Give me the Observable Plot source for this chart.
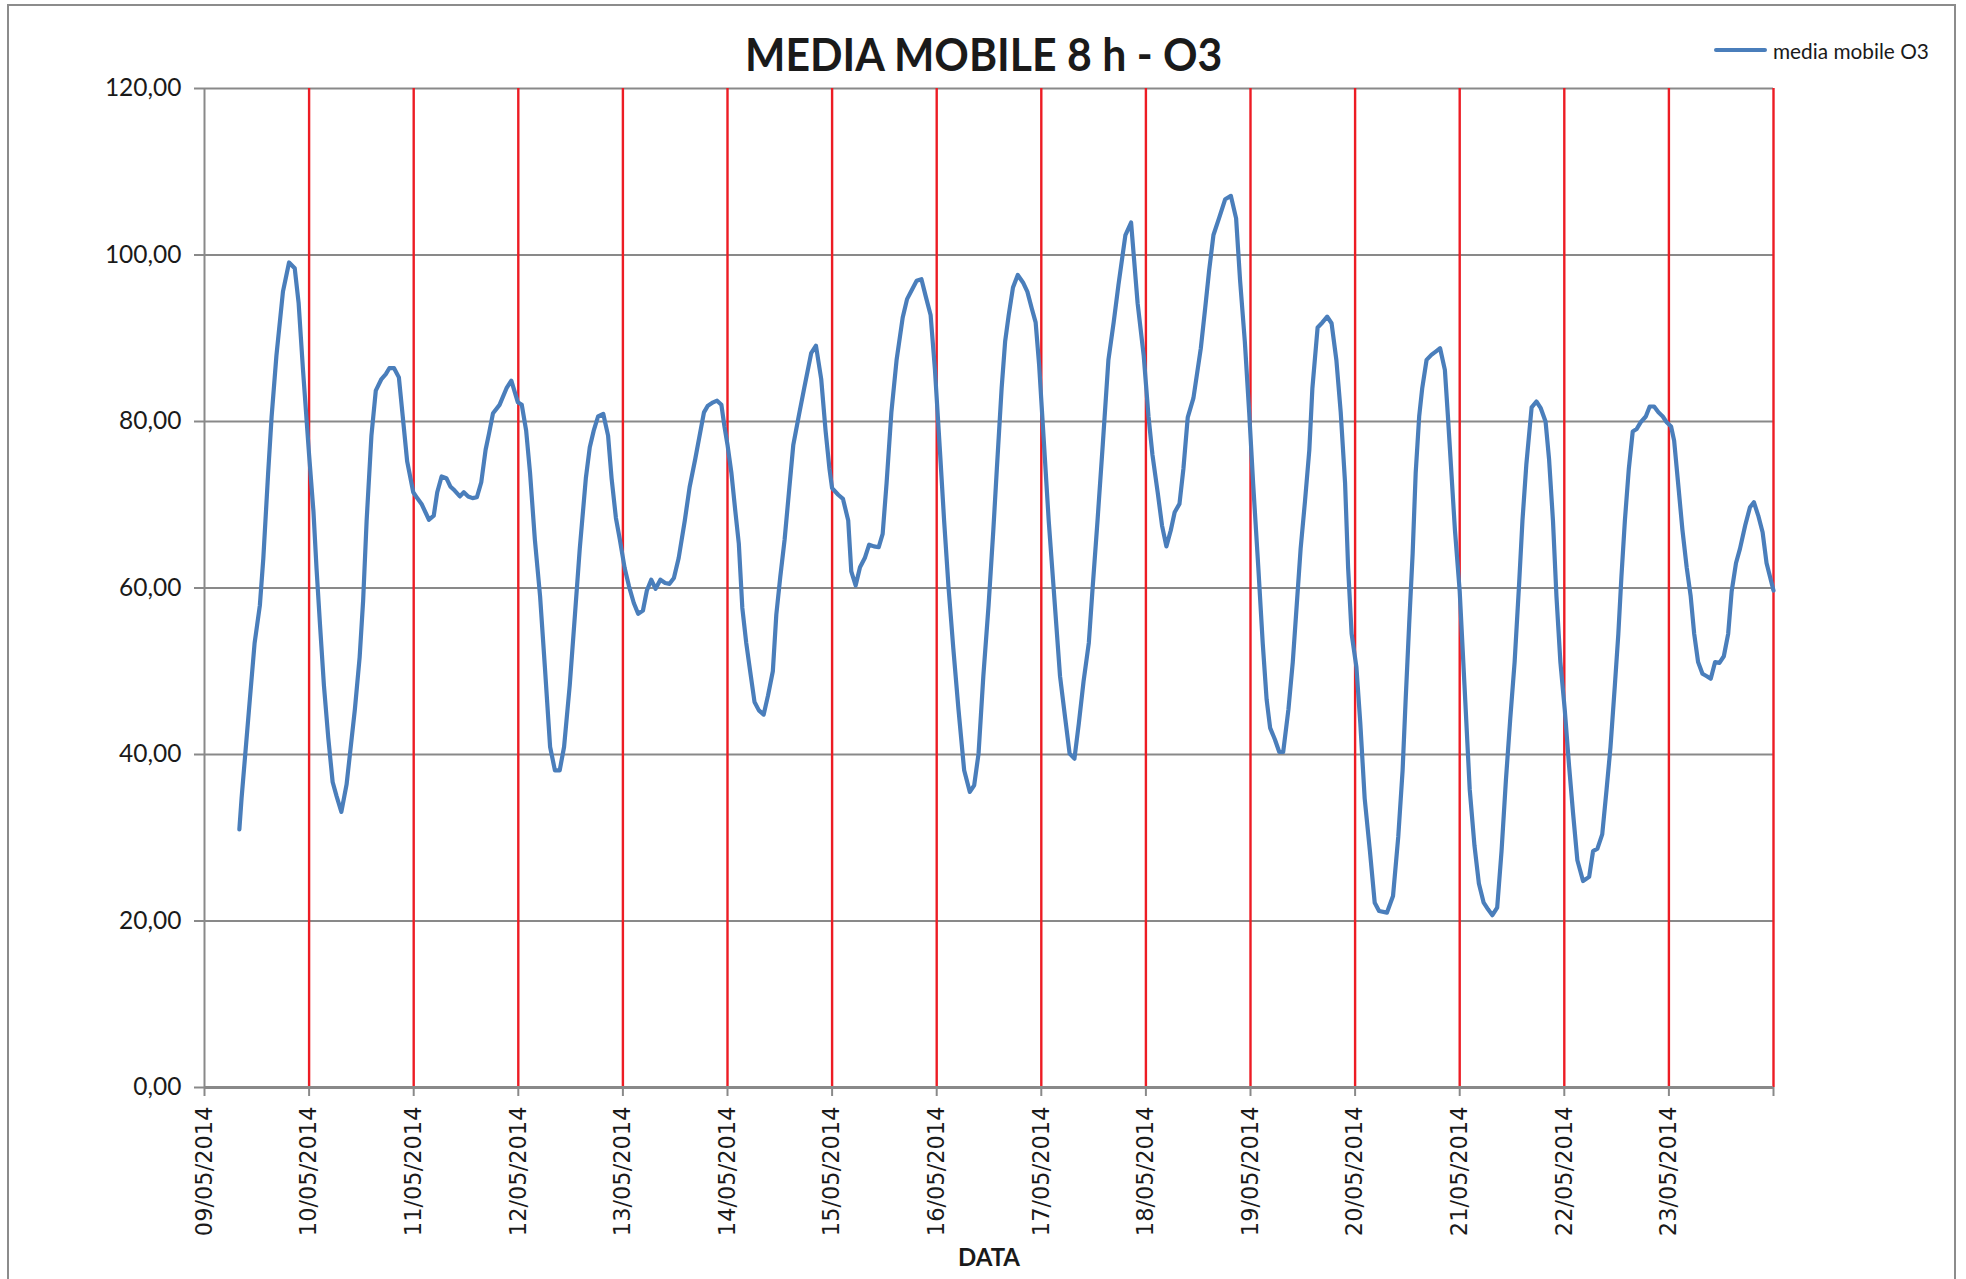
<!DOCTYPE html>
<html>
<head>
<meta charset="utf-8">
<script src="https://cdn.jsdelivr.net/npm/d3@7"></script>
<script src="https://cdn.jsdelivr.net/npm/@observablehq/plot@0.6"></script>
<style>
  html, body { margin: 0; padding: 0; background: #fff; overflow: hidden; }
  #page { position: relative; width: 1966px; height: 1279px; }
  #border { position: absolute; left: 7px; top: 4px; width: 1949px; height: 1400px; border: 2px solid #8c8c8c; box-sizing: border-box; }
  #header { position: relative; width: 1966px; height: 80px; }
  #titleWrap { position: absolute; left: 0; width: 1968px; top: 31px; text-align: center; }
  #title { display: inline-block; transform: scaleX(0.93); font-family: Lato, "Open Sans", sans-serif; font-weight: bold; font-size: 46px; line-height: 46px; color: #1a1a1a; white-space: nowrap; }
  #legend { position: absolute; left: 1714px; top: 38px; height: 24px; display: flex; align-items: center; font-family: Lato, "Open Sans", sans-serif; font-size: 20.8px; color: #1a1a1a; white-space: nowrap; }
  #legend .swatch { width: 53px; height: 4px; border-radius: 2px; background: #4a7ebb; margin-right: 6px; }
  #chart { position: relative; }
</style>
</head>
<body>
<div id="page">
  <div id="border"></div>
  <div id="header">
    <div id="titleWrap"><div id="title">MEDIA MOBILE 8 h - O3</div></div>
    <div id="legend"><span class="swatch"></span><span id="legendText">media mobile O3</span></div>
  </div>
  <div id="chart"></div>
</div>
<script>
// ---- Data (hours since 09/05/2014 00:00, moving-average O3) ----
const seriesName = "media mobile O3";
const seriesHours = [
  8, 8.5, 10.4, 11.5, 12.7, 13.5, 14.6, 15.4, 16.5, 18, 19.4, 20.7, 21.6, 22.6, 24, 25, 25.7, 26.5, 27.4, 28.4,
  29.4, 30.3, 31.4, 32.6, 34.5, 35.6, 36.4, 37.2, 38.3, 39.3, 40.6, 41.6, 42.4, 43.5, 44.6, 45.6, 46.5, 47.9, 48.8, 49.8,
  51.5, 52.6, 53.4, 54.4, 55.5, 56.4, 57.4, 58.6, 59.5, 60.5, 61.5, 62.5, 63.5, 64.5, 65.3, 66.2, 67.7, 69.3, 70.4, 71.9,
  72.8, 73.8, 74.7, 75.8, 77.0, 78.1, 79.3, 80.4, 81.5, 82.5, 83.8, 85.0, 86.1, 87.5, 88.4, 89.3, 90.3, 91.5, 92.6, 93.4,
  94.4, 95.3, 96.4, 97.4, 98.5, 99.5, 100.6, 101.5, 102.5, 103.5, 104.6, 105.7, 106.7, 107.7, 108.8, 110.2, 111.3, 112.6, 113.6, 114.6,
  115.5, 116.7, 117.6, 118.6, 119.3, 120, 120.9, 121.8, 122.6, 123.4, 124.3, 125.2, 126.2, 127.2, 128.3, 129.3, 130.4, 131.2, 132.1, 133.1,
  134.2, 135.1, 136.4, 137.6, 139.2, 140.3, 141.5, 142.5, 143.4,
  144, 145.4, 146.5, 147.7, 148.4, 149.4, 150.4, 151.5, 152.5, 153.6, 154.7, 155.6, 156.5, 157.6, 158.8, 160.2, 161.2, 162.5, 163.4, 164.5,
  165.5, 166.6, 167.6, 168.8, 169.7, 170.7, 171.8, 173.0, 174.3, 175.6, 176.6, 177.6, 178.7, 179.9, 181.0, 181.8, 182.9, 183.7, 184.5, 185.5,
  186.6, 187.8, 188.8, 189.8, 190.7, 191.5, 192.5, 193.7, 194.8, 196.3, 197.5, 198.5, 199.6, 200.6, 201.7, 202.9, 203.8, 204.9, 206.1, 207.4,
  208.6, 209.7, 211.3, 212.6,
  214.1, 215.5, 216.6, 217.5, 218.7, 219.7, 220.7, 221.7, 222.6, 223.7, 224.6, 225.6, 226.9, 228.6, 229.6, 230.5, 231.5, 232.9, 234.2, 235.5,
  236.7, 237.6, 238.7, 239.7, 240.6, 241.8, 242.8, 243.7, 244.5, 245.6, 246.6, 247.5, 248.7, 249.7, 250.6, 251.5, 252.5, 253.5, 254.2, 255.4,
  256.5, 257.6, 258.6, 259.7, 260.7, 261.7, 262.4, 263.2, 264.3, 265.2, 266.2, 267.4, 268.5, 269.5, 271.3, 272.7, 273.9, 274.9, 275.6, 276.4,
  277.2, 277.9, 278.7, 279.4, 280.4, 281.5, 282.5, 283.5,
  284.6, 285.3, 286.1, 286.9, 288, 289.1, 290.3, 291.4, 292.4, 293.5, 294.5, 295.5, 296.6, 297.6, 298.6, 299.6, 300.6, 301.6, 302.4, 303.3,
  304.5, 305.6, 306.6, 307.7, 308.5, 309.4, 310.2, 311.1, 312.1, 313.1, 314.0, 315.0, 316.3, 317.7, 318.6, 319.6, 320.7, 321.7, 322.6, 323.6,
  324.4, 325.1, 325.9, 326.8, 327.7, 328.6, 329.5, 330.7, 331.6, 332.6, 333.6, 334.6, 335.5, 336.5, 337.2, 338.2, 339.1, 340.1, 341.0, 341.8,
  342.7, 343.7, 344.7, 345.6, 346.6, 347.6, 348.6, 349.6, 350.4, 351.4, 352.3, 353.5, 354.6, 355.5, 356.5, 357.5, 358.4, 360
];
const seriesValues = [
  31.0, 34.7, 46.6, 53.4, 57.9, 63.6, 73.8, 80.6, 87.9, 95.6, 99.1, 98.4, 94.2, 86.2, 76.0, 69.2, 62.4, 55.6, 48.3, 42.0,
  36.7, 35.0, 33.1, 36.4, 45.4, 51.7, 58.5, 68.1, 78.3, 83.7, 85.1, 85.7, 86.4, 86.4, 85.3, 80.0, 75.2, 71.5, 70.8, 70.1,
  68.2, 68.7, 71.5, 73.4, 73.2, 72.2, 71.7, 71.0, 71.5, 71.0, 70.8, 70.9, 72.7, 76.6, 78.6, 81.0, 82.0, 84.0, 84.9, 82.3,
  82.0, 78.9, 73.8, 65.8, 59.0, 50.5, 40.9, 38.1, 38.1, 40.9, 48.3, 56.8, 64.7, 73.2, 76.9, 78.9, 80.6, 80.9, 78.3, 73.2,
  68.4, 65.8, 62.4, 60.2, 58.2, 56.9, 57.3, 59.7, 61.0, 59.9, 61.0, 60.6, 60.5, 61.2, 63.6, 68.1, 72.1, 75.5, 78.3, 81.1,
  81.9, 82.3, 82.5, 82.0, 79.4, 77.2, 73.8, 69.2, 65.3, 57.6, 53.4, 50.0, 46.3, 45.3, 44.8, 47.1, 50.0, 56.8, 61.3, 65.8,
  72.1, 77.2, 80.8, 84.0, 88.2, 89.1, 85.1, 78.9, 74.3,
  72.0, 71.2, 70.7, 68.1, 62.0, 60.3, 62.5, 63.6, 65.2, 65.0, 64.9, 66.5, 72.6, 81.1, 87.4, 92.5, 94.7, 96.0, 96.9, 97.1,
  95.0, 92.8, 86.2, 76.0, 68.1, 60.2, 52.8, 45.4, 38.1, 35.5, 36.3, 40.1, 49.4, 57.9, 67.0, 74.3, 84.0, 89.6, 92.7, 96.1,
  97.6, 96.7, 95.6, 93.6, 91.9, 86.8, 78.3, 68.1, 60.2, 49.4, 44.3, 40.1, 39.5, 43.7, 48.8, 53.4, 60.2, 68.1, 77.2, 87.4,
  91.9, 96.4, 102.4, 103.9,
  94.2, 87.9, 80.6, 76.0, 71.5, 67.5, 65.0, 66.9, 69.1, 70.1, 74.3, 80.5, 82.8, 88.8, 93.6, 98.1, 102.4, 104.6, 106.7, 107.1,
  104.4, 97.0, 89.6, 81.1, 72.6, 62.4, 53.4, 46.6, 43.2, 41.8, 40.3, 40.3, 45.4, 51.1, 57.9, 64.7, 70.4, 76.6, 84.0, 91.3,
  91.9, 92.6, 91.8, 87.4, 81.1, 72.6, 62.4, 54.5, 50.5, 43.7, 34.7, 28.4, 22.2, 21.2, 21.0, 23.0, 30.1, 38.1, 46.6, 55.6,
  64.1, 73.8, 80.6, 84.0, 87.4, 88.0, 88.4, 88.8,
  86.2, 80.6, 73.8, 67.0, 59.6, 48.3, 35.8, 29.0, 24.5, 22.2, 21.4, 20.7, 21.6, 28.4, 36.9, 44.3, 51.1, 60.2, 68.1, 74.9,
  81.7, 82.4, 81.6, 80.0, 75.5, 68.1, 59.0, 51.1, 45.4, 38.6, 33.0, 27.3, 24.8, 25.3, 28.4, 28.7, 30.4, 35.8, 40.9, 48.3,
  54.5, 61.3, 68.1, 74.3, 78.8, 79.1, 79.9, 80.6, 81.8, 81.8, 81.1, 80.6, 79.9, 79.4, 77.7, 72.1, 67.0, 62.4, 59.0, 54.5,
  51.1, 49.7, 49.4, 49.1, 51.1, 51.0, 51.8, 54.5, 59.6, 63.0, 64.7, 67.5, 69.7, 70.3, 68.7, 66.7, 63.0, 59.7
];
const tickLabels = [
  "09/05/2014", "10/05/2014", "11/05/2014", "12/05/2014", "13/05/2014",
  "14/05/2014", "15/05/2014", "16/05/2014", "17/05/2014", "18/05/2014",
  "19/05/2014", "20/05/2014", "21/05/2014", "22/05/2014", "23/05/2014"
];
const endLabel = "24/05/2014";
const yTicks = [0, 20, 40, 60, 80, 100, 120];
const titleText = "MEDIA MOBILE 8 h - O3";
const xTitle = "DATA";

// ---- Build ----
const parseDay = s => { const [d, m, y] = s.split("/").map(Number); return new Date(Date.UTC(y, m - 1, d)); };
const startDate = parseDay(tickLabels[0]);
const endDate = parseDay(endLabel);
const tickDates = tickLabels.map(parseDay).concat([endDate]);
const redDates = tickDates.slice(1);
const labelByTime = new Map(tickLabels.map(l => [parseDay(l).getTime(), l]));
const data = seriesHours.map((h, i) => ({date: new Date(startDate.getTime() + h * 3600e3), value: seriesValues[i]}));
const fmtY = d => d.toFixed(2).replace(".", ",");

document.getElementById("title").textContent = titleText;
document.getElementById("legendText").textContent = seriesName;

const gray = "#898989";
const chart = Plot.plot({
  width: 1966,
  height: 1199,
  marginLeft: 204,
  marginRight: 193,
  marginTop: 8,
  marginBottom: 192,
  style: {fontFamily: "Lato, 'Open Sans', sans-serif", color: "#1a1a1a", background: "transparent", overflow: "visible"},
  x: {type: "utc", domain: [startDate, endDate]},
  y: {domain: [0, 120]},
  marks: [
    Plot.gridY(yTicks, {stroke: gray, strokeOpacity: 1, strokeWidth: 1.8}),
    Plot.ruleX([startDate], {stroke: gray, strokeWidth: 2}),
    Plot.ruleX(redDates, {stroke: "#ed1c24", strokeWidth: 2.4}),
    Plot.ruleY([0], {stroke: gray, strokeWidth: 3.2}),
    Plot.axisY({ticks: yTicks, tickFormat: fmtY, tickSize: 10, tickPadding: 13, fontSize: 24.5, fontFamily: "Lato, 'Open Sans', sans-serif", stroke: gray, strokeWidth: 2, fill: "#1a1a1a", label: null}),
    Plot.axisX({ticks: tickDates, tickFormat: d => labelByTime.get(d.getTime()) ?? "", tickRotate: -90, tickSize: 9, tickPadding: 10, fontSize: 22.5, fontFamily: "'DejaVu Sans', sans-serif", stroke: gray, strokeWidth: 2, fill: "#1a1a1a", label: null}),
    Plot.text([xTitle], {text: d => d, frameAnchor: "bottom", dy: 171, lineAnchor: "middle", fontWeight: "bold", fontSize: 24, fontFamily: "Lato, 'Open Sans', sans-serif", fill: "#1a1a1a"}),
    Plot.line(data, {x: "date", y: "value", stroke: "#4a7ebb", strokeWidth: 4.2, curve: "linear"})
  ]
});
document.getElementById("chart").appendChild(chart);
</script>
</body>
</html>
